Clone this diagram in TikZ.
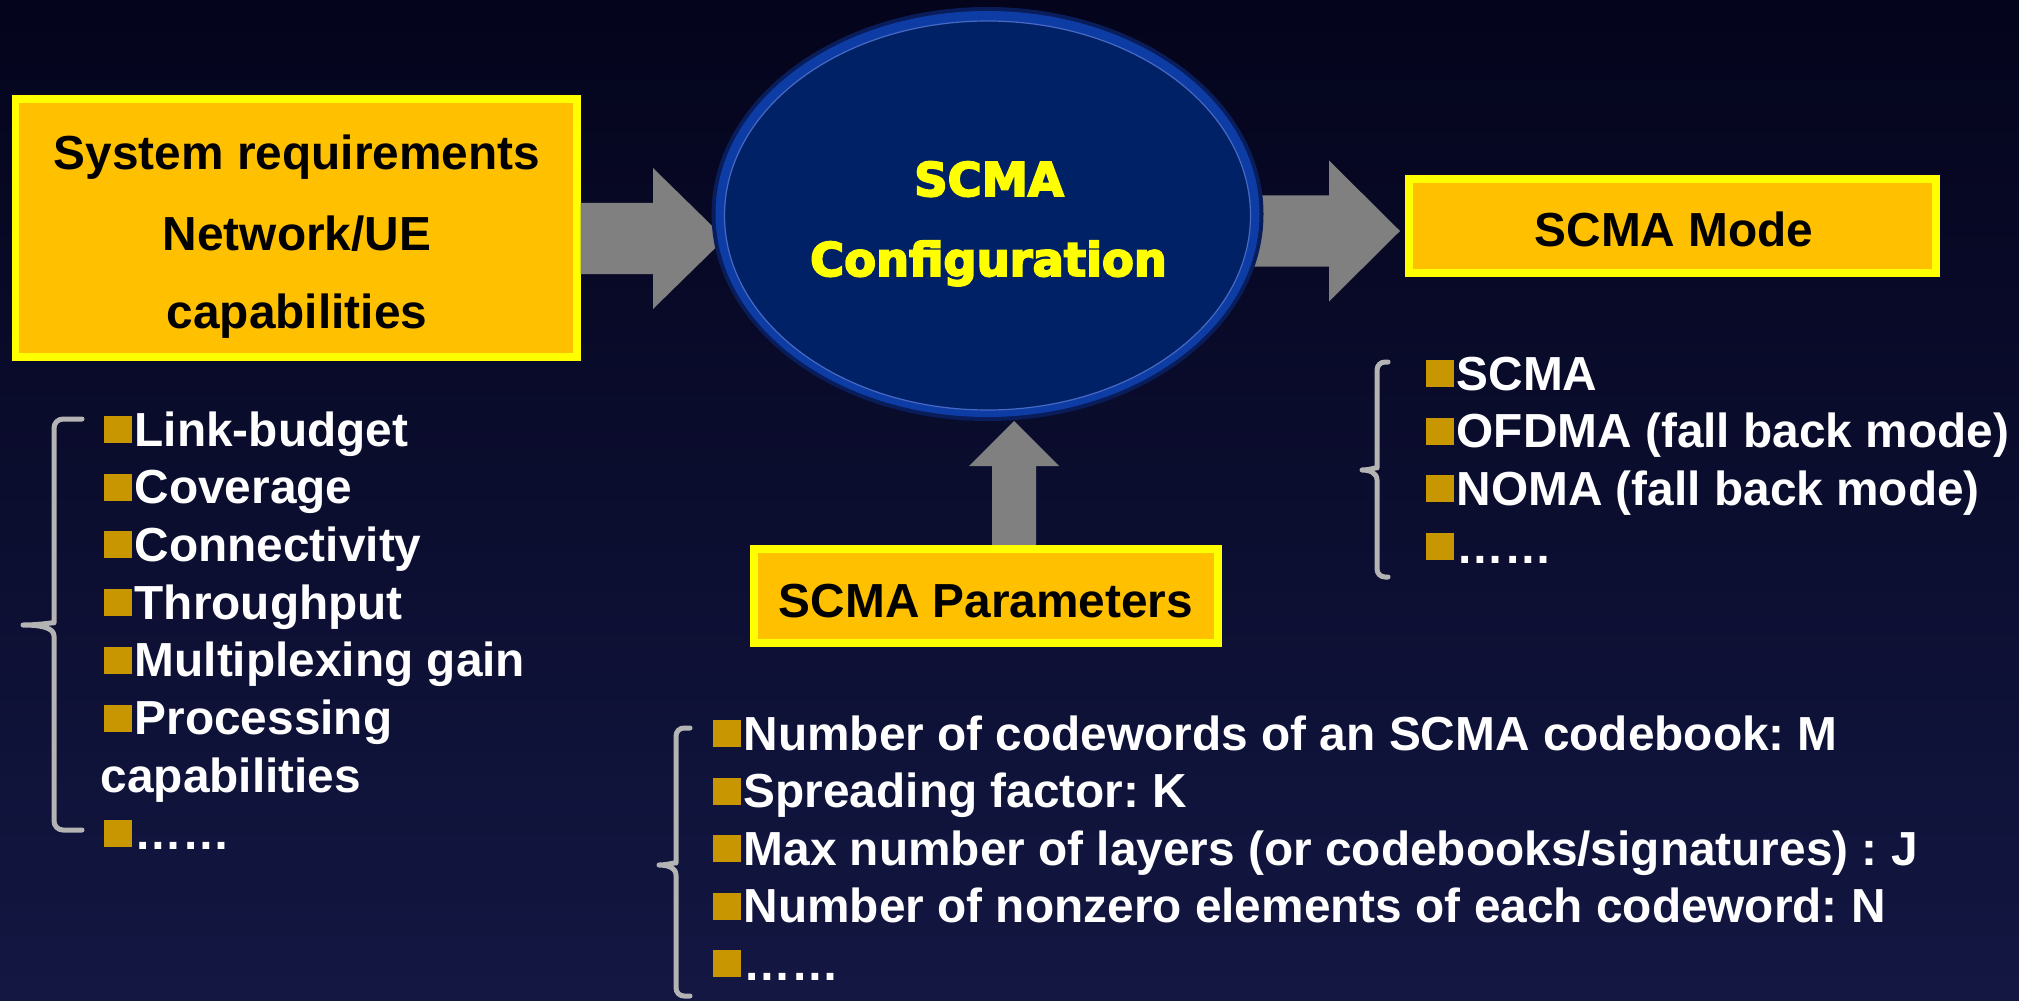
\documentclass[tikz,border=0pt]{standalone}
\usepackage{fontspec}
\setmainfont{Liberation Sans}
\newfontfamily\heavyfont{DejaVu Sans}[BoldFeatures={FakeBold=4}]
\usetikzlibrary{shapes.geometric,calc}

\definecolor{bgtop}{RGB}{4,4,28}
\definecolor{bgbot}{RGB}{19,23,66}
\definecolor{boxfill}{RGB}{255,192,0}
\definecolor{boxline}{RGB}{255,255,0}
\definecolor{arrowgray}{RGB}{128,128,128}
\definecolor{bulletgold}{RGB}{200,150,0}
\definecolor{bracegray}{RGB}{180,180,180}
\definecolor{ringblue}{RGB}{14,60,165}
\definecolor{coreblue}{RGB}{1,33,102}
\definecolor{edgeblue}{RGB}{70,105,195}

% bullet square + item text: name, bullet left x, baseline y, text
\newcommand\listitem[4]{%
  \fill[bulletgold] (#2,#3-3) rectangle ++(27.5,-27);
  \node[itemtxt] (#1) at (#2+30,#3) {#4};
}

\begin{document}
\frenchspacing
\begin{tikzpicture}[x=0.1mm,y=-0.1mm,
  txt/.style={font=\fontsize{13.6pt}{16pt}\selectfont\bfseries\frenchspacing, inner sep=0pt, anchor=base},
  boxtxt/.style={txt, text=black},
  itemtxt/.style={txt, text=white, anchor=base west},
  cfgtxt/.style={font=\fontsize{13.2pt}{16pt}\selectfont\heavyfont\bfseries, text=boxline, inner sep=0pt, anchor=base},
  ybox/.style={draw=boxline, fill=boxfill, line width=0.75mm, inner sep=0pt},
  bracket/.style={draw=bracegray, line width=0.5mm, line cap=round, line join=round},
  blockarrow/.style={fill=arrowgray}
]
\useasboundingbox (0,0) rectangle (2019,1001);
\shade[top color=bgtop, bottom color=bgbot] (0,0) rectangle (2019,1001);

% boxes and the central ellipse
\node[ybox, minimum width=56.15mm, minimum height=25.8mm] (sys) at (296,228) {};
\node[ybox, minimum width=52.7mm, minimum height=9.4mm] (mode) at (1672.5,226) {};
\node[ellipse, inner sep=0pt, minimum width=54.5mm, minimum height=40.8mm] (cfg) at (987.5,214) {};
\coordinate (tip1) at (725,238.5);
\coordinate (tip2) at (1400,231);
\coordinate (tip3) at (1014,421);

% block arrows
\fill[blockarrow] let \p1=(sys.east), \p2=(tip1) in
  (\x1,\y2-3.55mm) -- (\x2-7.2mm,\y2-3.55mm) -- (\x2-7.2mm,\y2-7.05mm) -- (\x2,\y2)
  -- (\x2-7.2mm,\y2+7.05mm) -- (\x2-7.2mm,\y2+3.55mm) -- (\x1,\y2+3.55mm) -- cycle;
\fill[blockarrow] let \p1=(cfg.east), \p2=(tip2) in
  (\x1-2mm,\y2-3.55mm) -- (\x2-7.1mm,\y2-3.55mm) -- (\x2-7.1mm,\y2-7.05mm) -- (\x2,\y2)
  -- (\x2-7.1mm,\y2+7.05mm) -- (\x2-7.1mm,\y2+3.55mm) -- (\x1-2mm,\y2+3.55mm) -- cycle;

% ellipse drawn over the arrow tails: soft outer rim, ring, core
\fill[ringblue!45!bgtop] (cfg.center) ellipse [x radius=276, y radius=207];
\fill[ringblue] (cfg.center) ellipse [x radius=272, y radius=203];
\node[ellipse, fill=coreblue, draw=edgeblue, line width=0.12mm, inner sep=0pt,
      minimum width=52.6mm, minimum height=38.9mm] (cfgcore) at (987.5,215.5) {};
\node[cfgtxt] (cfgA) at (989,196) {SCMA};
\node[cfgtxt] (cfgB) at (988.5,276) {Configuration};

% parameters box with the upward arrow
\node[ybox, minimum width=46.4mm, minimum height=9.4mm] (params) at (986,596) {};
\fill[blockarrow] let \p1=(params.north), \p2=(tip3) in
  (\x2-2.2mm,\y1) -- (\x2-2.2mm,\y2-4.5mm) -- (\x2-4.5mm,\y2-4.5mm) -- (\x2,\y2)
  -- (\x2+4.5mm,\y2-4.5mm) -- (\x2+2.2mm,\y2-4.5mm) -- (\x2+2.2mm,\y1) -- cycle;
\node[ybox, minimum width=46.4mm, minimum height=9.4mm] (paramsfront) at (params.center) {};

% box labels
\node[boxtxt] (sysA) at (297,169) {System requirements};
\node[boxtxt] (sysB) at (297,250) {Network/UE};
\node[boxtxt] (sysC) at (297,328) {capabilities};
\node[boxtxt] (modeA) at (1674,247) {SCMA Mode};
\node[boxtxt] (paramsA) at (986,617) {SCMA Parameters};

% requirement list
\draw[bracket] (82,419) [rounded corners=0.9mm] -- (54,419) -- (54,614) [sharp corners]
  .. controls (54,622) and (42,625) .. (23,625) .. controls (42,625) and (54,628) .. (54,636)
  [rounded corners=0.9mm] -- (54,830) -- (82,830);
\listitem{l1}{104}{446}{Link-budget}
\listitem{l2}{104}{503.7}{Coverage}
\listitem{l3}{104}{561.4}{Connectivity}
\listitem{l4}{104}{619.1}{Throughput}
\listitem{l5}{104}{676.8}{Multiplexing gain}
\listitem{l6}{104}{734.5}{Processing}
\node[itemtxt] (l6b) at (100,792.2) {capabilities};
\listitem{l7}{104}{849.9}{……}

% mode list
\draw[bracket] (1388,362) [rounded corners=0.8mm] -- (1377,362) -- (1377,460) [sharp corners]
  .. controls (1377,467) and (1370,470) .. (1362,470) .. controls (1370,470) and (1377,473) .. (1377,480)
  [rounded corners=0.8mm] -- (1377,577) -- (1388,577);
\listitem{m1}{1426}{390}{SCMA}
\listitem{m2}{1426}{447.7}{OFDMA (fall back mode)}
\listitem{m3}{1426}{505.4}{NOMA (fall back mode)}
\listitem{m4}{1426}{563.1}{……}

% parameter list
\draw[bracket] (690,728) [rounded corners=0.8mm] -- (676,728) -- (676,855) [sharp corners]
  .. controls (676,862) and (668,865) .. (659,865) .. controls (668,865) and (676,868) .. (676,875)
  [rounded corners=0.8mm] -- (676,996) -- (690,996);
\listitem{p1}{713}{750}{Number of codewords of an SCMA codebook: M}
\listitem{p2}{713}{807.5}{Spreading factor: K}
\listitem{p3}{713}{865}{Max number of layers (or codebooks/signatures) : J}
\listitem{p4}{713}{922.5}{Number of nonzero elements of each codeword: N}
\listitem{p5}{713}{980}{……}
\end{tikzpicture}
\end{document}
